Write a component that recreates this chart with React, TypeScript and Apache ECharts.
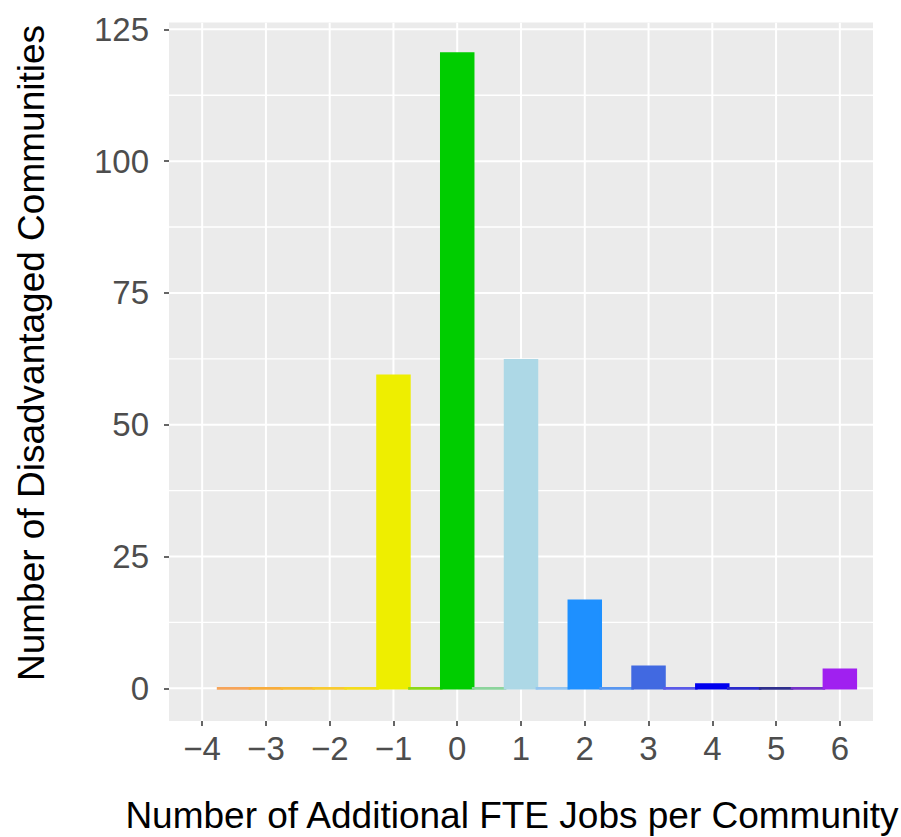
import React, { useEffect, useRef } from "react";
import * as echarts from "echarts";

// Histogram bins (centre of each 0.5-wide bin) and the number of communities in each
const binCenters = [-3.5, -3, -2.5, -2, -1.5, -1, -0.5, 0, 0.5, 1, 1.5, 2, 2.5, 3, 3.5, 4, 4.5, 5, 5.5, 6];
const counts = [0, 0, 0, 0, 0, 59.3, 0, 120.4, 0, 62.2, 0, 16.6, 0, 4.1, 0, 0.7, 0, 0, 0, 3.5];
const binColors = [
  "#F6A45A", "#F8AC3C", "#F8BA36", "#F8CA30", "#F4DC1C",
  "#EEEE00", "#8CD818", "#00CD00", "#8CD49C", "#ADD8E6",
  "#94C4F0", "#1E90FF", "#5896F0", "#4169E1", "#5A5AE8",
  "#0000EE", "#2A2ACC", "#2E2E8C", "#7432C8", "#A020F0",
];
const BIN_WIDTH = 0.5;

// Axis ticks and grid lines
const xTicks = [-4, -3, -2, -1, 0, 1, 2, 3, 4, 5, 6];
const yTicks = [0, 25, 50, 75, 100, 125];
const yMinorTicks = [12.5, 37.5, 62.5, 87.5, 112.5];

const xTitle = "Number of Additional FTE Jobs per Community";
const yTitle = "Number of Disadvantaged Communities";

export default function App() {
  const ref = useRef<HTMLDivElement>(null);

  useEffect(() => {
    if (!ref.current) return;
    const chart = echarts.init(ref.current, null, { renderer: "svg" });
    const font = "'Liberation Sans', Arial, Helvetica, sans-serif";

    // grid line definitions: [orientation (0 = horizontal, 1 = vertical), value, major?]
    const gridLines: number[][] = [
      ...yMinorTicks.map((v) => [0, v, 0]),
      ...yTicks.map((v) => [0, v, 1]),
      ...xTicks.map((v) => [1, v, 1]),
    ];

    const option: any = {
      animation: false,
      backgroundColor: "#FFFFFF",
      grid: {
        left: 169,
        right: 28,
        top: 22.5,
        bottom: 116,
        show: true,
        backgroundColor: "#EBEBEB",
        borderWidth: 0,
      },
      xAxis: {
        type: "value",
        min: -4.52,
        max: 6.52,
        axisLine: { show: false, onZero: false },
        splitLine: { show: false },
        axisTick: {
          show: true,
          customValues: xTicks,
          length: 5,
          lineStyle: { color: "#333333", width: 1.5 },
        },
        axisLabel: {
          customValues: xTicks,
          color: "#4D4D4D",
          fontFamily: font,
          fontSize: 33,
          margin: 11,
          formatter: (v: number) => (v < 0 ? "\u2212" + Math.abs(v) : String(v)),
        },
      },
      yAxis: {
        type: "value",
        min: -6.2,
        max: 126.3,
        axisLine: { show: false, onZero: false },
        splitLine: { show: false },
        axisTick: {
          show: true,
          customValues: yTicks,
          length: 5,
          lineStyle: { color: "#333333", width: 1.5 },
        },
        axisLabel: {
          customValues: yTicks,
          color: "#4D4D4D",
          fontFamily: font,
          fontSize: 33,
          margin: 20,
        },
      },
      graphic: [
        {
          type: "text",
          x: 512,
          y: 815,
          style: {
            text: xTitle,
            fill: "#000000",
            font: `37px ${font}`,
            textAlign: "center",
            textVerticalAlign: "middle",
          },
        },
        {
          type: "text",
          x: 31,
          y: 353,
          rotation: Math.PI / 2,
          style: {
            text: yTitle,
            fill: "#000000",
            font: `37px ${font}`,
            textAlign: "center",
            textVerticalAlign: "middle",
          },
        },
      ],
      series: [
        {
          type: "custom",
          z: 1,
          silent: true,
          clip: true,
          data: gridLines,
          renderItem: (params: any, api: any) => {
            const cs = params.coordSys;
            const orient = api.value(0);
            const v = api.value(1);
            const major = api.value(2) === 1;
            const w = major ? 2 : 1.4;
            if (orient === 0) {
              const y = api.coord([0, v])[1];
              return {
                type: "line",
                shape: { x1: cs.x, y1: y, x2: cs.x + cs.width, y2: y },
                style: { stroke: "#FFFFFF", lineWidth: w },
              };
            }
            const x = api.coord([v, 0])[0];
            return {
              type: "line",
              shape: { x1: x, y1: cs.y, x2: x, y2: cs.y + cs.height },
              style: { stroke: "#FFFFFF", lineWidth: w },
            };
          },
        },
        {
          type: "custom",
          z: 3,
          data: binCenters.map((c, i) => [c, counts[i]]),
          renderItem: (params: any, api: any) => {
            const x = api.value(0);
            const v = api.value(1);
            const p0 = api.coord([x - BIN_WIDTH / 2, 0]);
            const p1 = api.coord([x + BIN_WIDTH / 2, v]);
            const color = binColors[params.dataIndex];
            const h = p0[1] - p1[1];
            if (h < 0.5) {
              return {
                type: "line",
                shape: { x1: p0[0] - 1.3, y1: p0[1], x2: p1[0] + 1.3, y2: p0[1] },
                style: { stroke: color, lineWidth: 2.7 },
              };
            }
            return {
              type: "rect",
              shape: { x: p0[0], y: p1[1], width: p1[0] - p0[0], height: h },
              style: { fill: color, stroke: color, lineWidth: 2.6 },
            };
          },
        },
      ],
    };

    chart.setOption(option);
    return () => chart.dispose();
  }, []);

  return (
    <div
      ref={ref}
      style={{ position: "fixed", left: 0, top: 0, width: 901, height: 837 }}
    />
  );
}
